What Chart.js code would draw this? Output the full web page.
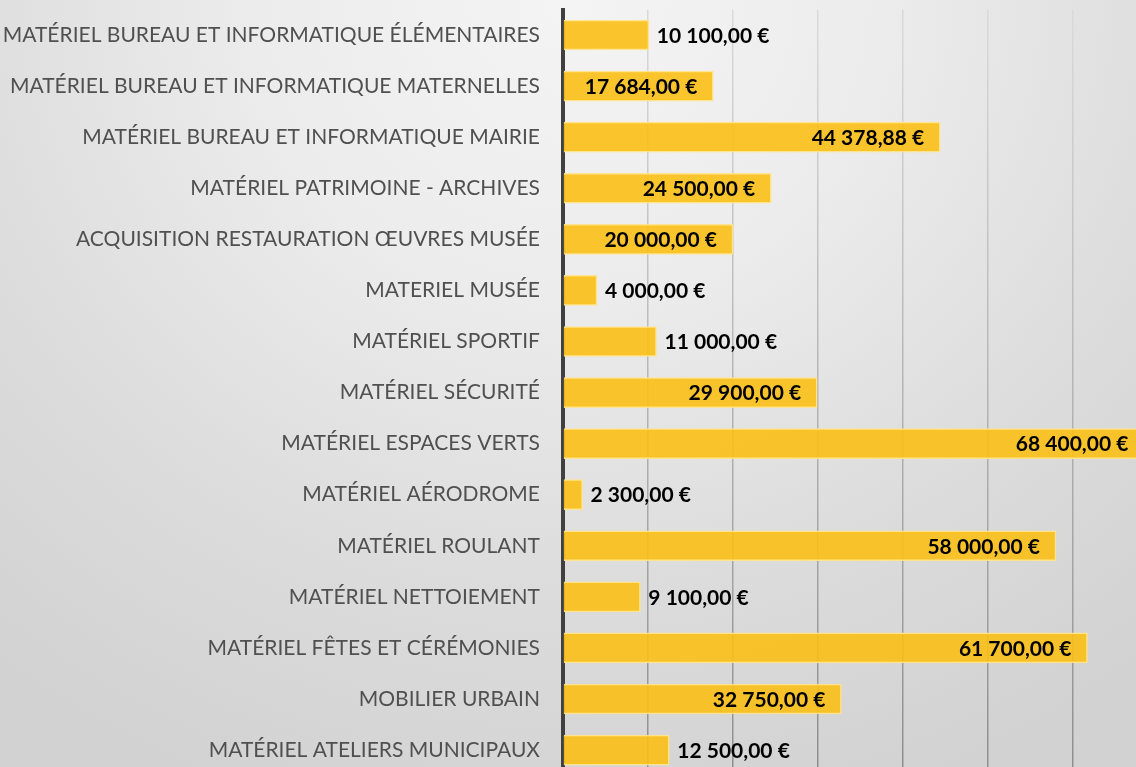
<!DOCTYPE html>
<html lang="fr">
<head>
<meta charset="utf-8">
<title>Investissements - matériel</title>
<script src="https://cdn.jsdelivr.net/npm/chart.js@4.4.1/dist/chart.umd.min.js"></script>
<style>
  html, body { margin: 0; padding: 0; background: #d6d6d6; }
  #cadre {
    position: relative;
    width: 1136px;
    height: 767px;
    overflow: hidden;
    background: radial-gradient(ellipse 80% 110% at 50% 0%, #f4f4f4 0%, #ececec 35%, #dcdcdc 70%, #d2d2d2 100%);
  }
  #chartInvest { position: absolute; left: 0; top: 0; }
</style>
</head>
<body>
<div id="cadre">
  <canvas id="chartInvest" width="1243" height="790"></canvas>
</div>
<script>
"use strict";

var categories = [
  'MATÉRIEL BUREAU ET INFORMATIQUE ÉLÉMENTAIRES',
  'MATÉRIEL BUREAU ET INFORMATIQUE MATERNELLES',
  'MATÉRIEL BUREAU ET INFORMATIQUE MAIRIE',
  'MATÉRIEL PATRIMOINE - ARCHIVES',
  'ACQUISITION RESTAURATION ŒUVRES MUSÉE',
  'MATERIEL MUSÉE',
  'MATÉRIEL SPORTIF',
  'MATÉRIEL SÉCURITÉ',
  'MATÉRIEL ESPACES VERTS',
  'MATÉRIEL AÉRODROME',
  'MATÉRIEL ROULANT',
  'MATÉRIEL NETTOIEMENT',
  'MATÉRIEL FÊTES ET CÉRÉMONIES',
  'MOBILIER URBAIN',
  'MATÉRIEL ATELIERS MUNICIPAUX'
];

var montants = [
  10100, 17684, 44378.88, 24500, 20000, 4000, 11000, 29900,
  68400, 2300, 58000, 9100, 61700, 32750, 12500
];

// bornes de l'axe des montants (graduations tous les 10 000)
var axeMin = 0;
var axeMax = 80000;
var axePas = 10000;

var POLICE = "Lato, 'Open Sans', sans-serif";

function formatEuro(v) {
  var parts = v.toFixed(2).split('.');
  var entier = parts[0].replace(/\B(?=(\d{3})+(?!\d))/g, ' ');
  return entier + ',' + parts[1] + ' €';
}

// étiquettes de valeur : dans la barre si elle est assez longue, sinon à côté
var etiquettesValeurs = {
  id: 'etiquettesValeurs',
  afterDatasetsDraw: function (chart) {
    var ctx  = chart.ctx;
    var meta = chart.getDatasetMeta(0);
    var gauche = chart.chartArea.left;
    ctx.save();
    ctx.font = 'bold 21px ' + POLICE;
    ctx.fillStyle = '#000000';
    ctx.textBaseline = 'middle';
    meta.data.forEach(function (barre, i) {
      var texte   = formatEuro(montants[i]);
      var largeur = ctx.measureText(texte).width;
      if (barre.x - gauche > largeur + 28) {
        ctx.textAlign = 'right';
        ctx.fillText(texte, barre.x - 16, barre.y + 1);
      } else {
        ctx.textAlign = 'left';
        ctx.fillText(texte, barre.x + 8, barre.y + 1);
      }
    });
    ctx.restore();
  }
};

var degradeGrille = null;
function couleurGrille(c) {
  var area = c.chart.chartArea;
  if (!area) return '#b0b0b0';
  if (!degradeGrille) {
    degradeGrille = c.chart.ctx.createLinearGradient(0, area.top, 0, area.bottom);
    degradeGrille.addColorStop(0, '#dadada');
    degradeGrille.addColorStop(1, '#8e8e8e');
  }
  return degradeGrille;
}

new Chart(document.getElementById('chartInvest'), {
  type: 'bar',
  data: {
    labels: categories,
    datasets: [{
      data: montants,
      backgroundColor: 'rgba(251,192,22,0.9)',
      borderColor: 'rgba(255,228,140,0.95)',
      borderWidth: 1.5,
      borderSkipped: 'start',
      barThickness: 30
    }]
  },
  options: {
    indexAxis: 'y',
    responsive: false,
    animation: false,
    layout: { padding: { top: 9.5, right: 0, bottom: 14.4, left: 0 } },
    plugins: {
      legend: { display: false },
      tooltip: { enabled: false }
    },
    scales: {
      x: {
        min: axeMin,
        max: axeMax,
        ticks: { display: false, stepSize: axePas },
        grid: { color: couleurGrille, lineWidth: 1.5, drawTicks: false },
        border: { display: false },
        afterFit: function (s) {
          s.height = 0;
          s.paddingLeft = 0;
          s.paddingRight = 0;
        }
      },
      y: {
        z: 1,
        grid: { display: false, drawTicks: false },
        border: { display: true, color: '#404040', width: 4 },
        ticks: {
          color: '#505050',
          padding: 23,
          font: { family: POLICE, size: 21 }
        },
        afterFit: function (s) {
          s.width = 563;
          s.paddingTop = 0;
          s.paddingBottom = 0;
        }
      }
    }
  },
  plugins: [etiquettesValeurs]
});
</script>
</body>
</html>
